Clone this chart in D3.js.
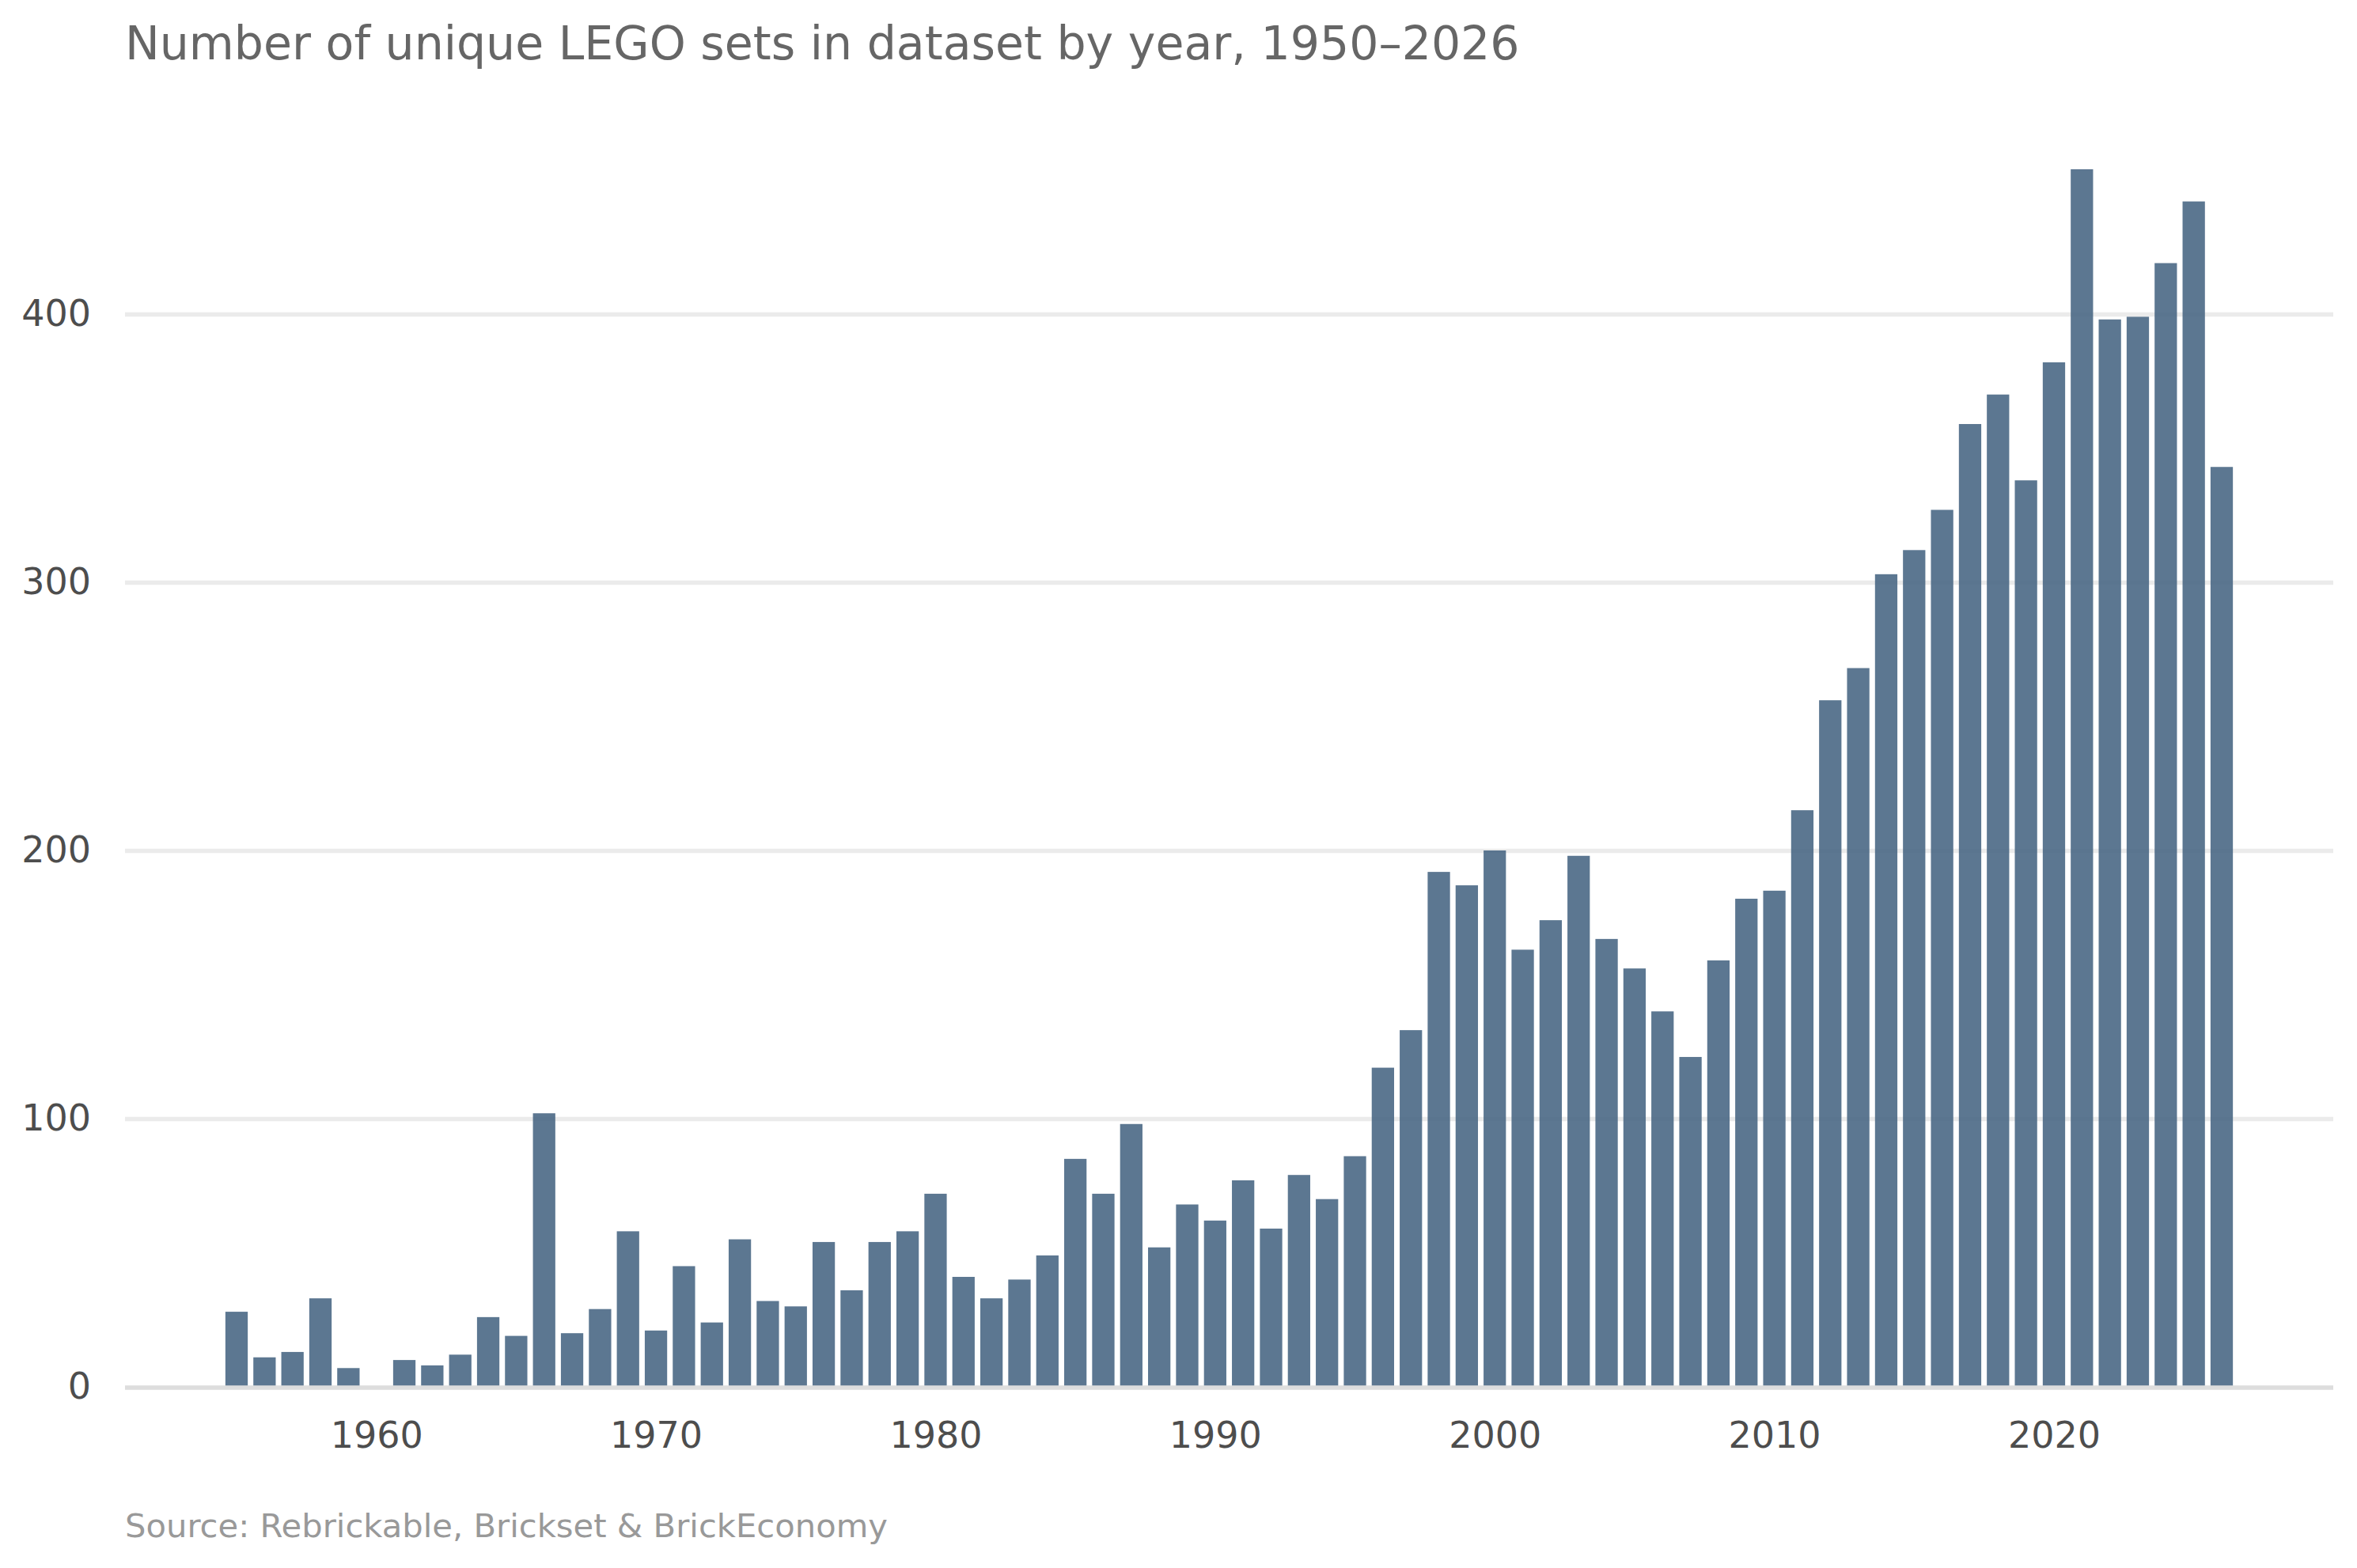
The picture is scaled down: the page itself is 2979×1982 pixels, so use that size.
<!DOCTYPE html>
<html>
<head>
<meta charset="utf-8">
<script src="https://cdn.jsdelivr.net/npm/d3@7"></script>
<style>
  body { margin: 0; background: #fff; }
  svg { display: block; font-family: "DejaVu Sans", sans-serif; }
</style>
</head>
<body>
<div class="Chart"></div>
<script>
// LEGO set counts per year
const years = [
  1955, 1956, 1957, 1958, 1959, 1960, 1961, 1962, 1963, 1964,
  1965, 1966, 1967, 1968, 1969, 1970, 1971, 1972, 1973, 1974,
  1975, 1976, 1977, 1978, 1979, 1980, 1981, 1982, 1983, 1984,
  1985, 1986, 1987, 1988, 1989, 1990, 1991, 1992, 1993, 1994,
  1995, 1996, 1997, 1998, 1999, 2000, 2001, 2002, 2003, 2004,
  2005, 2006, 2007, 2008, 2009, 2010, 2011, 2012, 2013, 2014,
  2015, 2016, 2017, 2018, 2019, 2020, 2021, 2022, 2023, 2024,
  2025, 2026
];
const counts = [
  28, 11, 13, 33, 7, 0, 10, 8, 12, 26,
  19, 102, 20, 29, 58, 21, 45, 24, 55, 32,
  30, 54, 36, 54, 58, 72, 41, 33, 40, 49,
  85, 72, 98, 52, 68, 62, 77, 59, 79, 70,
  86, 119, 133, 192, 187, 200, 163, 174, 198, 167,
  156, 140, 123, 159, 182, 185, 215, 256, 268, 303,
  312, 327, 359, 370, 338, 382, 454, 398, 399, 419,
  442, 343
];
const xTicks = [1960, 1970, 1980, 1990, 2000, 2010, 2020];
const yTicks = [0, 100, 200, 300, 400];

const titleText = "Number of unique LEGO sets in dataset by year, 1950\u20132026";
const sourceText = "Source: Rebrickable, Brickset & BrickEconomy";

const data = years.map((year, i) => ({ year, count: counts[i] }));

const WIDTH = 2979;
const HEIGHT = 1982;
const left = 158;
const right = 2949;
const bottom = 1753;
const barWidth = 0.8;

const container = d3.select(".Chart").append("svg")
  .attr("width", WIDTH)
  .attr("height", HEIGHT);

// SCALES
const pad = (d3.max(years) - d3.min(years) + barWidth) * 0.05;
const xScale = d3.scaleLinear()
  .domain([d3.min(years) - barWidth / 2 - pad, d3.max(years) + barWidth / 2 + pad])
  .range([left, right]);

const yMax = d3.max(counts) * 1.05;
const yScale = d3.scaleLinear()
  .domain([0, yMax])
  .range([bottom, bottom - yMax * (bottom - 397) / 400]);

// grid lines
container.append("g")
  .attr("transform", `translate(${left},0)`)
  .call(d3.axisLeft(yScale).tickValues(yTicks.slice(1)).tickSize(-(right - left)).tickFormat(""))
  .call((g) => g.select(".domain").remove())
  .call((g) => g.selectAll(".tick line").attr("stroke", "#ebebeb").attr("stroke-width", 5.5));

// bars
container.selectAll(".bar")
  .data(data)
  .join("rect")
  .attr("class", "bar")
  .attr("x", (d) => xScale(d.year - barWidth / 2))
  .attr("y", (d) => yScale(d.count))
  .attr("width", xScale(barWidth) - xScale(0))
  .attr("height", (d) => yScale(0) - yScale(d.count))
  .attr("fill", "#4a6885")
  .attr("fill-opacity", 0.9);

// baseline
container.append("line")
  .attr("x1", left)
  .attr("x2", right)
  .attr("y1", yScale(0) + 1)
  .attr("y2", yScale(0) + 1)
  .attr("stroke", "#dddddd")
  .attr("stroke-width", 5.5);

// y axis labels
container.append("g")
  .attr("transform", `translate(${left},0)`)
  .call(d3.axisLeft(yScale).tickValues(yTicks).tickSize(0).tickPadding(43).tickFormat(d3.format("d")))
  .call((g) => g.select(".domain").remove())
  .call((g) => g.selectAll("text")
    .attr("fill", "#4d4d4d")
    .style("font-size", "46px")
    .style("font-family", "DejaVu Sans"));

// x axis labels
container.append("g")
  .attr("transform", `translate(0,${bottom})`)
  .call(d3.axisBottom(xScale).tickValues(xTicks).tickSize(0).tickPadding(44).tickFormat(d3.format("d")))
  .call((g) => g.select(".domain").remove())
  .call((g) => g.selectAll("text")
    .attr("fill", "#4d4d4d")
    .style("font-size", "46px")
    .style("font-family", "DejaVu Sans"));

// title
container.append("text")
  .attr("x", left)
  .attr("y", 75)
  .attr("fill", "#666666")
  .style("font-size", "58.5px")
  .text(titleText);

// source
container.append("text")
  .attr("x", left)
  .attr("y", 1943)
  .attr("fill", "#999999")
  .style("font-size", "41.7px")
  .text(sourceText);
</script>
</body>
</html>
